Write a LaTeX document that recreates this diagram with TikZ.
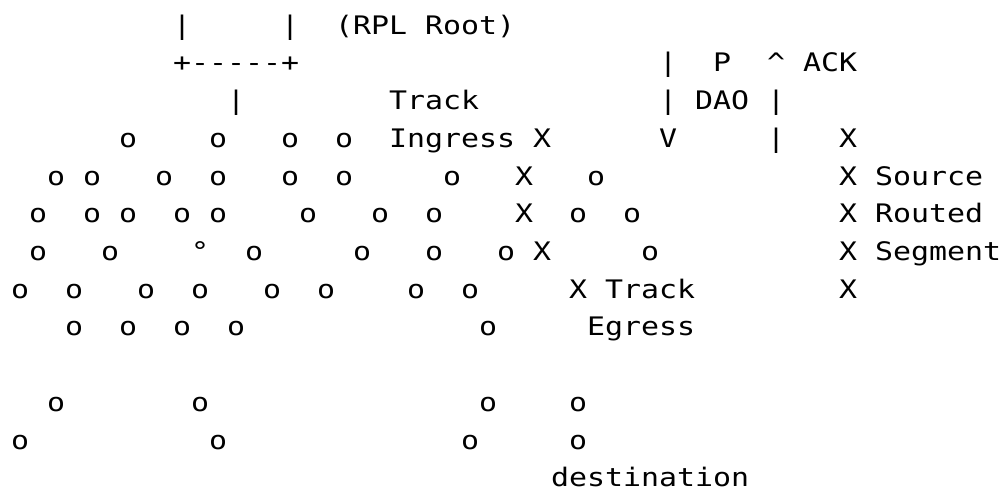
\documentclass[tikz,border=0pt]{standalone}
\usepackage{fontspec}
\newfontfamily\monofnt[FakeStretch=1.1726,Ligatures=TeXOff]{DejaVu Sans Mono}
\newcounter{tkn}
\newcommand\tk[3]{\stepcounter{tkn}\node[tok] (t\arabic{tkn}) at ({11+18*#1},{34.3+37.7*(#2-1)}) {#3};}
\begin{document}
\begin{tikzpicture}[x=1bp,y=-1bp,
  tok/.style={anchor=base west,inner sep=0pt,outer sep=0pt,
    font=\monofnt\fontsize{25.5bp}{30bp}\selectfont}]
\useasboundingbox (0,0) rectangle (1004,492);
% line 1
\tk{9}{1}{|}\tk{15}{1}{|}\tk{18}{1}{(RPL}\tk{23}{1}{Root)}
% line 2
\tk{9}{2}{+}\foreach \c in {10,...,14}{\tk{\c}{2}{-}}\tk{15}{2}{+}
\tk{36}{2}{|}\tk{39}{2}{P}\tk{42}{2}{\textasciicircum}\tk{44}{2}{ACK}
% line 3
\tk{12}{3}{|}\tk{21}{3}{Track}\tk{36}{3}{|}\tk{38}{3}{DAO}\tk{42}{3}{|}
% line 4
\foreach \c in {6,11,15,18}{\tk{\c}{4}{o}}
\tk{21}{4}{Ingress}\tk{29}{4}{X}\tk{36}{4}{V}\tk{42}{4}{|}\tk{46}{4}{X}
% line 5
\foreach \c in {2,4,8,11,15,18,24,32}{\tk{\c}{5}{o}}
\tk{28}{5}{X}\tk{46}{5}{X}\tk{48}{5}{Source}
% line 6
\foreach \c in {1,4,6,9,11,16,20,23,31,34}{\tk{\c}{6}{o}}
\tk{28}{6}{X}\tk{46}{6}{X}\tk{48}{6}{Routed}
% line 7
\foreach \c in {1,5,13,19,23,27,35}{\tk{\c}{7}{o}}
\tk{10}{7}{°}\tk{29}{7}{X}\tk{46}{7}{X}\tk{48}{7}{Segment}
% line 8
\foreach \c in {0,3,7,10,14,17,22,25}{\tk{\c}{8}{o}}
\tk{31}{8}{X}\tk{33}{8}{Track}\tk{46}{8}{X}
% line 9
\foreach \c in {3,6,9,12,26}{\tk{\c}{9}{o}}
\tk{32}{9}{Egress}
% line 11
\foreach \c in {2,10,26,31}{\tk{\c}{11}{o}}
% line 12
\foreach \c in {0,11,25,31}{\tk{\c}{12}{o}}
% line 13
\tk{30}{13}{destination}
\end{tikzpicture}
\end{document}
